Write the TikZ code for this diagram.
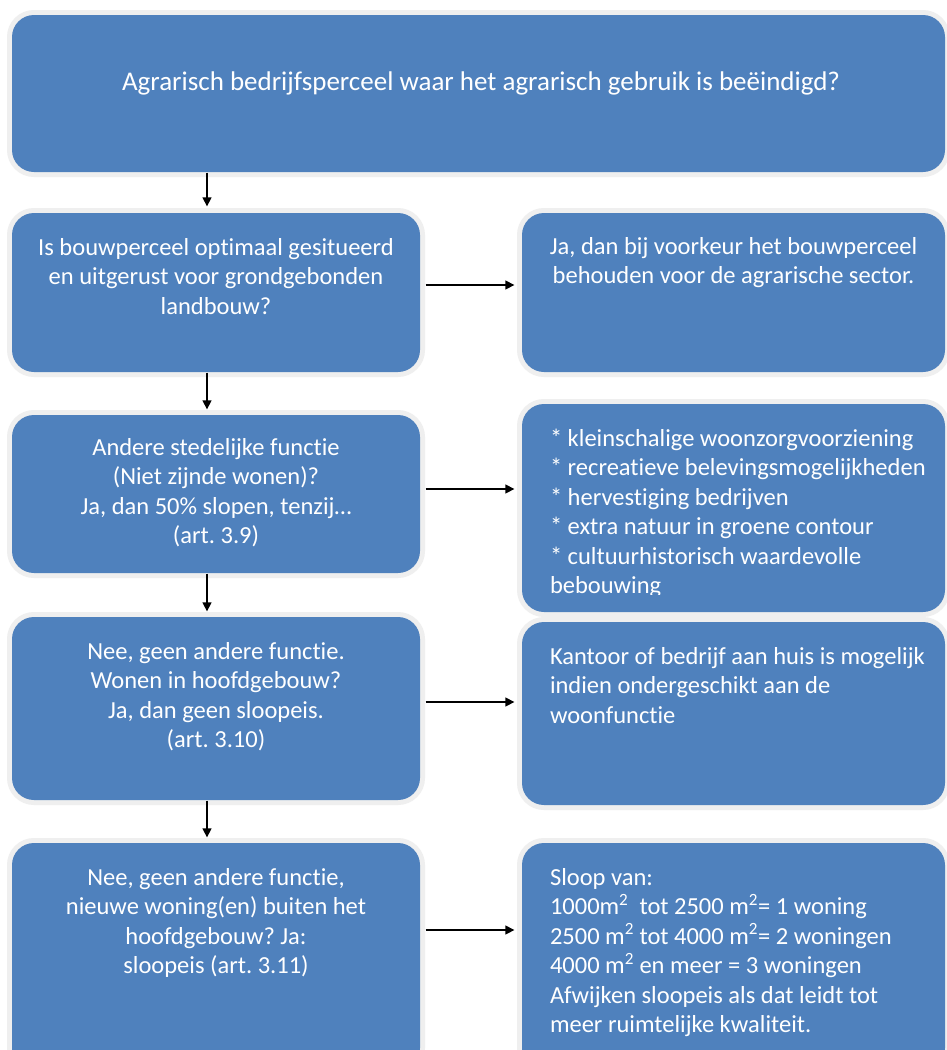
\documentclass[tikz,border=0pt]{standalone}
\usepackage{fontspec}
\setmainfont[Ligatures=NoCommon]{Carlito}
\usetikzlibrary{arrows.meta,positioning}
\definecolor{boxblue}{HTML}{4F81BD}
\definecolor{halo}{HTML}{EFEFEF}
\frenchspacing
\tikzset{
	flowbox/.style={rectangle,rounded corners=22pt,fill=boxblue,inner sep=0pt,
		preaction={draw=halo,line width=10pt}},
	flowtext/.style={text=white,inner sep=0pt,font=\fontsize{24.5}{29.5}\selectfont,align=center},
	flowlist/.style={flowtext,align=left,anchor=north west}
}
\begin{document}
\begin{tikzpicture}[x=1pt,y=-1pt,>={Triangle[length=9pt,width=9pt]},line width=1.3pt]
			\def\ax{207}
			\clip (0,0) rectangle (947,1050);
			\fill[white] (0,0) rectangle (947,1050);
			% boxes
			\node[flowbox,minimum width=933pt,minimum height=157pt] (top) at (478.5,93.5) {};
			\node[flowbox,minimum width=408pt,minimum height=159pt] (l1) at (216,292.5) {};
			\node[flowbox,minimum width=423pt,minimum height=159pt] (r1) at (733.5,292.5) {};
			\node[flowbox,minimum width=408pt,minimum height=158pt] (l2) at (216,494) {};
			\node[flowbox,minimum width=423pt,minimum height=208pt] (r2) at (733.5,508) {};
			\node[flowbox,minimum width=408pt,minimum height=183pt] (l3) at (216,708.5) {};
			\node[flowbox,minimum width=423pt,minimum height=183pt] (r3) at (733.5,713.5) {};
			\node[flowbox,minimum width=408pt,minimum height=227pt] (l4) at (216,956.5) {};
			\node[flowbox,minimum width=423pt,minimum height=227pt] (r4) at (733.5,956.5) {};
			% texts
			\node[flowtext,font=\fontsize{27}{32}\selectfont,anchor=north,below=57pt of top.north,xshift=2.5pt] (ttop) {Agrarisch bedrijfsperceel waar het agrarisch gebruik is beëindigd?};
			\node[flowtext,anchor=north,below=25pt of l1.north] (tl1) {Is bouwperceel optimaal gesitueerd\\ en uitgerust voor grondgebonden\\ landbouw?};
			\node[flowtext,anchor=north,below=24pt of r1.north] (tr1) {Ja, dan bij voorkeur het bouwperceel\\ behouden voor de agrarische sector.};
			\node[flowtext,anchor=north,below=23pt of l2.north] (tl2) {Andere stedelijke functie\\ (Niet zijnde wonen)?\\ Ja, dan 50\% slopen, tenzij…\\ (art. 3.9)};
			\begin{scope}
				\clip (522,404) rectangle (945,594);
				\node[flowlist] (tr2) at ([xshift=28pt,yshift=-25pt]r2.north west) {* kleinschalige woonzorgvoorziening\\ * recreatieve belevingsmogelijkheden\\ * hervestiging bedrijven\\ * extra natuur in groene contour\\ * cultuurhistorisch waardevolle\\ bebouwing};
			\end{scope}
			\node[flowtext,anchor=north,below=25pt of l3.north] (tl3) {Nee, geen andere functie.\\ Wonen in hoofdgebouw?\\ Ja, dan geen sloopeis.\\ (art. 3.10)};
			\node[flowlist] (tr3) at ([xshift=28pt,yshift=-25pt]r3.north west) {Kantoor of bedrijf aan huis is mogelijk\\ indien ondergeschikt aan de\\ woonfunctie};
			\node[flowtext,anchor=north,below=25pt of l4.north] (tl4) {Nee, geen andere functie,\\ nieuwe woning(en) buiten het\\ hoofdgebouw? Ja:\\ sloopeis (art. 3.11)};
			\begin{scope}
				\clip (522,843) rectangle (945,1036);
				\node[flowlist] (tr4) at ([xshift=28pt,yshift=-25pt]r4.north west) {Sloop van:\\ 1000m\textsuperscript{2}\ \ tot 2500 m\textsuperscript{2}= 1 woning\\ 2500 m\textsuperscript{2} tot 4000 m\textsuperscript{2}= 2 woningen\\ 4000 m\textsuperscript{2} en meer = 3 woningen\\ Afwijken sloopeis als dat leidt tot\\ meer ruimtelijke kwaliteit.};
			\end{scope}
			% arrows down
			\draw[->,shorten >=6pt] (top.south -| \ax,0) -- (l1.north -| \ax,0);
			\draw[->,shorten >=5pt] (l1.south -| \ax,0) -- (l2.north -| \ax,0);
			\draw[->,shorten >=5pt] (l2.south -| \ax,0) -- (l3.north -| \ax,0);
			\draw[->,shorten >=5pt] (l3.south -| \ax,0) -- (l4.north -| \ax,0);
			% arrows right
			\draw[->,shorten <=5pt,shorten >=7pt] (l1.east |- 0,285) -- (r1.west |- 0,285);
			\draw[->,shorten <=5pt,shorten >=7pt] (l2.east |- 0,489) -- (r2.west |- 0,489);
			\draw[->,shorten <=5pt,shorten >=7pt] (l3.east |- 0,702) -- (r3.west |- 0,702);
			\draw[->,shorten <=5pt,shorten >=7pt] (l4.east |- 0,930) -- (r4.west |- 0,930);
		\end{tikzpicture}
\end{document}
